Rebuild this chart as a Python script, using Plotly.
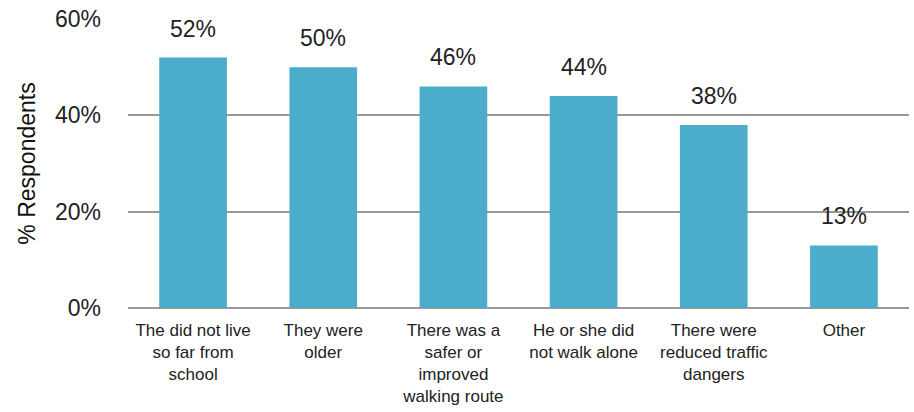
import plotly.graph_objects as go

categories = ["The did not live<br>so far from<br>school", "They were<br>older",
              "There was a<br>safer or<br>improved<br>walking route",
              "He or she did<br>not walk alone", "There were<br>reduced traffic<br>dangers", "Other"]
values = [52, 50, 46, 44, 38, 13]
value_labels = ["52%", "50%", "46%", "44%", "38%", "13%"]
y_ticks = [0, 20, 40, 60]
y_tick_labels = ["0%", "20%", "40%", "60%"]

font_family = "Liberation Sans, Arial, Helvetica, sans-serif"

fig = go.Figure()
fig.add_trace(go.Bar(x=categories, y=values, marker=dict(color="#4BADCB", line=dict(width=0)),
                     hoverinfo="skip"))

for c, v, t in zip(categories, values, value_labels):
    fig.add_annotation(x=c, y=v, text=t, showarrow=False, yanchor="bottom", yshift=14,
                       font=dict(size=23, color="#222222", family=font_family))

fig.update_layout(
    width=914, height=412,
    margin=dict(l=128, r=5, t=19, b=104),
    paper_bgcolor="white", plot_bgcolor="white",
    bargap=0.48,
    showlegend=False,
    font=dict(family=font_family, color="#222222"),
    xaxis=dict(showgrid=False, showline=False, ticks="", tickfont=dict(size=17, color="#222222"),
               ticklabelstandoff=10),
    yaxis=dict(range=[0, 60], tickvals=y_ticks, ticktext=y_tick_labels, showgrid=True,
               gridcolor="#9a9a9a", gridwidth=1.5, zeroline=True, zerolinecolor="#9a9a9a",
               zerolinewidth=1.5, showline=False, ticks="", tickfont=dict(size=23, color="#222222"),
               ticklabelstandoff=26,
               title=dict(text="% Respondents", font=dict(size=23, color="#111111"), standoff=12)),
)

fig.write_html("out.html")
